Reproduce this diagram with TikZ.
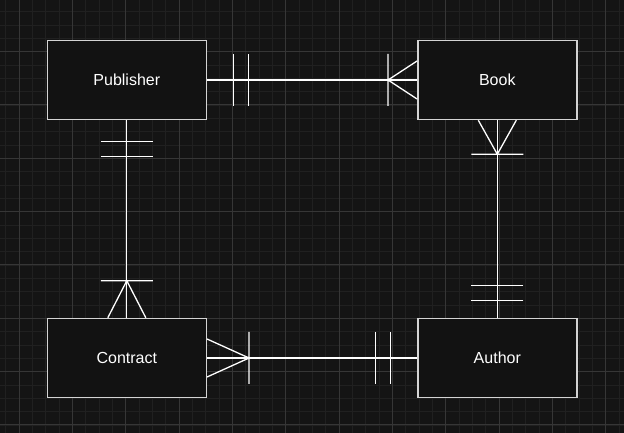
\documentclass[tikz,border=0pt]{standalone}
\usepackage{fontspec}
\setmainfont{Liberation Sans}
\usepackage{tikz}
\usetikzlibrary{
  positioning,
  calc
}
\definecolor{CanvasDark}{HTML}{141414}
\definecolor{EntityFill}{HTML}{121212}
\definecolor{EntityLine}{HTML}{D4D4D4}
\definecolor{GridMinor}{HTML}{202020}
\definecolor{GridMajor}{HTML}{363636}
\tikzset{
  entity/.style={
    draw=EntityLine,
    fill=EntityFill,
    line width=1.5pt,
    text=white,
    inner sep=0pt,
    minimum width=159pt,
    minimum height=79pt,
    font=\fontsize{16}{19}\selectfont
  },
  relation/.style={
    draw=white,
    line width=1.3pt
  },
  minorgrid/.style={
    draw=GridMinor,
    line width=0.8pt
  },
  majorgrid/.style={
    draw=GridMajor,
    line width=1pt
  },
  one/.pic={
    \draw[relation]
    (#1,-26) -- (#1,26)
    (#1+15,-26) -- (#1+15,26);
  },
  many/.pic={
    \draw[relation]
    (0,19) -- (#1,0) -- (0,-19)
    (#1,-26) -- (#1,26);
  }
}

\begin{document}
\begin{tikzpicture}[
  x=1pt,
  y=1pt,
  node distance=197.5pt and 210pt
]

  % canvas and grid
  \fill[CanvasDark] (0,0) rectangle (624,433);
  \begin{scope}
    \clip (0,0) rectangle (624,433);
    \foreach \i in {0,...,46}
      \draw[minorgrid] (5.67+13.333*\i,0) -- (5.67+13.333*\i,433);
    \foreach \i in {0,...,32}
      \draw[minorgrid] (0,8+13.333*\i) -- (624,8+13.333*\i);
    \foreach \i in {0,...,11}
      \draw[majorgrid] (19+53.333*\i,0) -- (19+53.333*\i,433);
    \foreach \i in {0,...,8}
      \draw[majorgrid] (0,8+53.333*\i) -- (624,8+53.333*\i);
  \end{scope}
  \useasboundingbox (0,0) rectangle (624,433);

  \node[
    entity
  ] (publisher) at (126.8,353) {
    Publisher
  };

  \node[
    entity,
    right=of publisher
  ] (book) {
    Book
  };

  \node[
    entity,
    below=of publisher
  ] (contract) {
    Contract
  };

  \node[
    entity,
    right=of contract
  ] (author) {
    Author
  };

  \draw[relation]
  (publisher) --
  (book);

  \draw[relation]
  (publisher) --
  (contract);

  \draw[relation]
  (book) --
  (author);

  \draw[relation]
  (contract) --
  (author);

  % cardinality marks
  \pic at (publisher.east) {one=26.5};
  \pic[rotate=180] at (book.west) {many=29};
  \pic[rotate=-90] at (publisher.south) {one=21};
  \pic[rotate=90] at (contract.north) {many=37};
  \pic[rotate=-90] at (book.south) {many=34};
  \pic[rotate=90] at (author.north) {one=17};
  \pic at (contract.east) {many=42};
  \pic[rotate=180] at (author.west) {one=26.5};

\end{tikzpicture}
\end{document}
